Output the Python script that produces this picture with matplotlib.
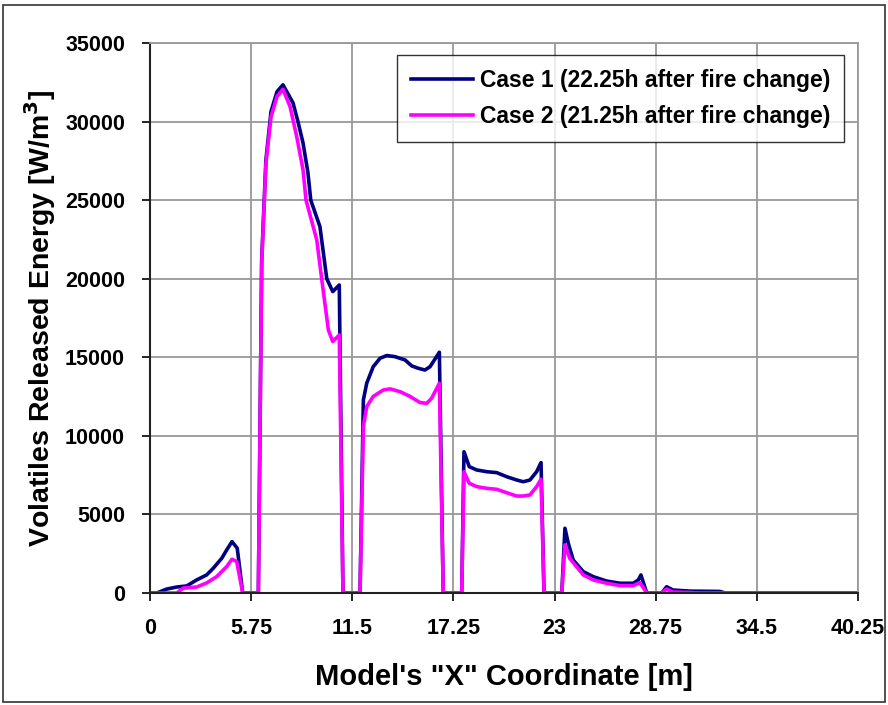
import matplotlib.pyplot as plt
from matplotlib.patches import Rectangle

plt.rcParams["font.family"] = ["Liberation Sans", "DejaVu Sans"]
plt.rcParams["font.weight"] = "bold"
plt.rcParams["axes.labelweight"] = "bold"

# Case 1 (22.25h after fire change)
x_case1 = [0, 0.38, 0.95, 1.52, 2.09, 2.65, 3.22, 3.60, 4.08, 4.36, 4.66, 4.96, 5.27,
           6.16, 6.35, 6.59, 6.88, 7.22, 7.56, 8.13, 8.41, 8.70, 8.98, 9.14, 9.66, 10.05,
           10.39, 10.76, 10.97,
           11.94, 12.13, 12.32, 12.69, 13.08, 13.46, 13.93, 14.50, 14.88, 15.25, 15.63,
           15.92, 16.45, 16.67,
           17.72, 17.85, 18.15, 18.57, 19.14, 19.71, 20.28, 20.85, 21.22, 21.60, 21.98,
           22.23, 22.40,
           23.41, 23.59, 23.78, 24.06, 24.63, 25.20, 25.96, 26.72, 27.48, 27.76, 27.91,
           28.24,
           29.09, 29.37, 29.73, 30.70, 32.40, 32.69, 40.25]
y_case1 = [0, 0, 250, 380, 450, 830, 1150, 1580, 2210, 2740, 3270, 2850, 0,
           0, 21200, 27560, 30640, 31900, 32340, 31190, 30000, 28640, 26730, 25000, 23320,
           20000, 19180, 19600, 0,
           0, 12280, 13350, 14400, 14940, 15110, 15040, 14830, 14450, 14300, 14190,
           14400, 15320, 0,
           0, 8990, 8040, 7830, 7720, 7660, 7400, 7190, 7080, 7190, 7720, 8300, 0,
           0, 4120, 3160, 2100, 1360, 1040, 760, 620, 620, 830, 1150, 0,
           0, 400, 190, 120, 100, 0, 0]

# Case 2 (21.25h after fire change)
x_case2 = [0, 1.52, 1.89, 2.65, 3.22, 3.79, 4.36, 4.66, 4.93, 5.27,
           6.16, 6.35, 6.59, 6.88, 7.22, 7.56, 7.96, 8.34, 8.70, 8.87, 9.48, 9.76,
           10.14, 10.39, 10.76, 10.97,
           11.94, 12.13, 12.32, 12.69, 13.27, 13.65, 14.22, 14.78, 15.35, 15.73, 16.01,
           16.45, 16.67,
           17.72, 17.85, 18.15, 18.57, 19.14, 19.71, 20.28, 20.85, 21.22, 21.60, 21.98,
           22.23, 22.40,
           23.41, 23.59, 23.86, 24.63, 25.20, 25.96, 26.72, 27.48, 27.85, 28.24,
           29.09, 29.37, 29.73, 30.70, 31.30, 40.25]
y_case2 = [0, 0, 310, 380, 640, 1040, 1680, 2150, 2000, 0,
           0, 21000, 27300, 30300, 31600, 32050, 30960, 29050, 26930, 25000, 22470, 20000,
           16740, 16000, 16420, 0,
           0, 10590, 11860, 12510, 12920, 12990, 12810, 12510, 12120, 12070, 12390,
           13350, 0,
           0, 7720, 6980, 6770, 6660, 6600, 6380, 6170, 6170, 6240, 6770, 7240, 0,
           0, 3060, 2210, 1150, 830, 620, 470, 470, 660, 0,
           0, 250, 60, 30, 0, 0]

x_ticks = [0, 5.75, 11.5, 17.25, 23, 28.75, 34.5, 40.25]
x_tick_labels = ["0", "5.75", "11.5", "17.25", "23", "28.75", "34.5", "40.25"]
y_ticks = [0, 5000, 10000, 15000, 20000, 25000, 30000, 35000]

fig = plt.figure(figsize=(8.88, 7.05), dpi=100)
ax = fig.add_axes([150 / 888, 1 - 593 / 705, 708 / 888, 550 / 705])

ax.plot(x_case1, y_case1, color="#000080", lw=2.6,
        label="Case 1 (22.25h after fire change)")
ax.plot(x_case2, y_case2, color="#FF00FF", lw=2.6,
        label="Case 2 (21.25h after fire change)")

ax.set_xlim(0, 40.25)
ax.set_ylim(0, 35000)
ax.set_xticks(x_ticks)
ax.set_xticklabels(x_tick_labels)
ax.set_yticks(y_ticks)
ax.tick_params(labelsize=15.5, direction="out", length=6, width=1.2, pad=12)
ax.grid(True, color="#999999", lw=1.3)
ax.set_axisbelow(True)

for side in ["top", "right"]:
    ax.spines[side].set_color("#999999")
    ax.spines[side].set_linewidth(1.3)
for side in ["left", "bottom"]:
    ax.spines[side].set_color("#222222")
    ax.spines[side].set_linewidth(1.5)

ax.set_xlabel("Model's \"X\" Coordinate [m]", fontsize=21, fontweight="bold", labelpad=17)
ax.set_ylabel("Volatiles Released Energy [W/m$^\\mathbf{3}$]", fontsize=20.5,
              fontweight="bold", labelpad=5)

leg = ax.legend(loc="upper right", bbox_to_anchor=(1 - 14 / 708, 1 - 12 / 550),
                borderaxespad=0, fontsize=16.5, frameon=True, fancybox=False,
                handlelength=2.7, borderpad=0.6, labelspacing=0.6, handletextpad=0.3)
leg.get_frame().set_edgecolor("black")
leg.get_frame().set_linewidth(1.0)

# border round the whole picture
fig.patches.append(Rectangle((3 / 888, 3 / 705), 882 / 888, 697 / 705,
                             transform=fig.transFigure, fill=False,
                             edgecolor="#333333", lw=1.2))

fig.savefig("out.png", dpi=100)
